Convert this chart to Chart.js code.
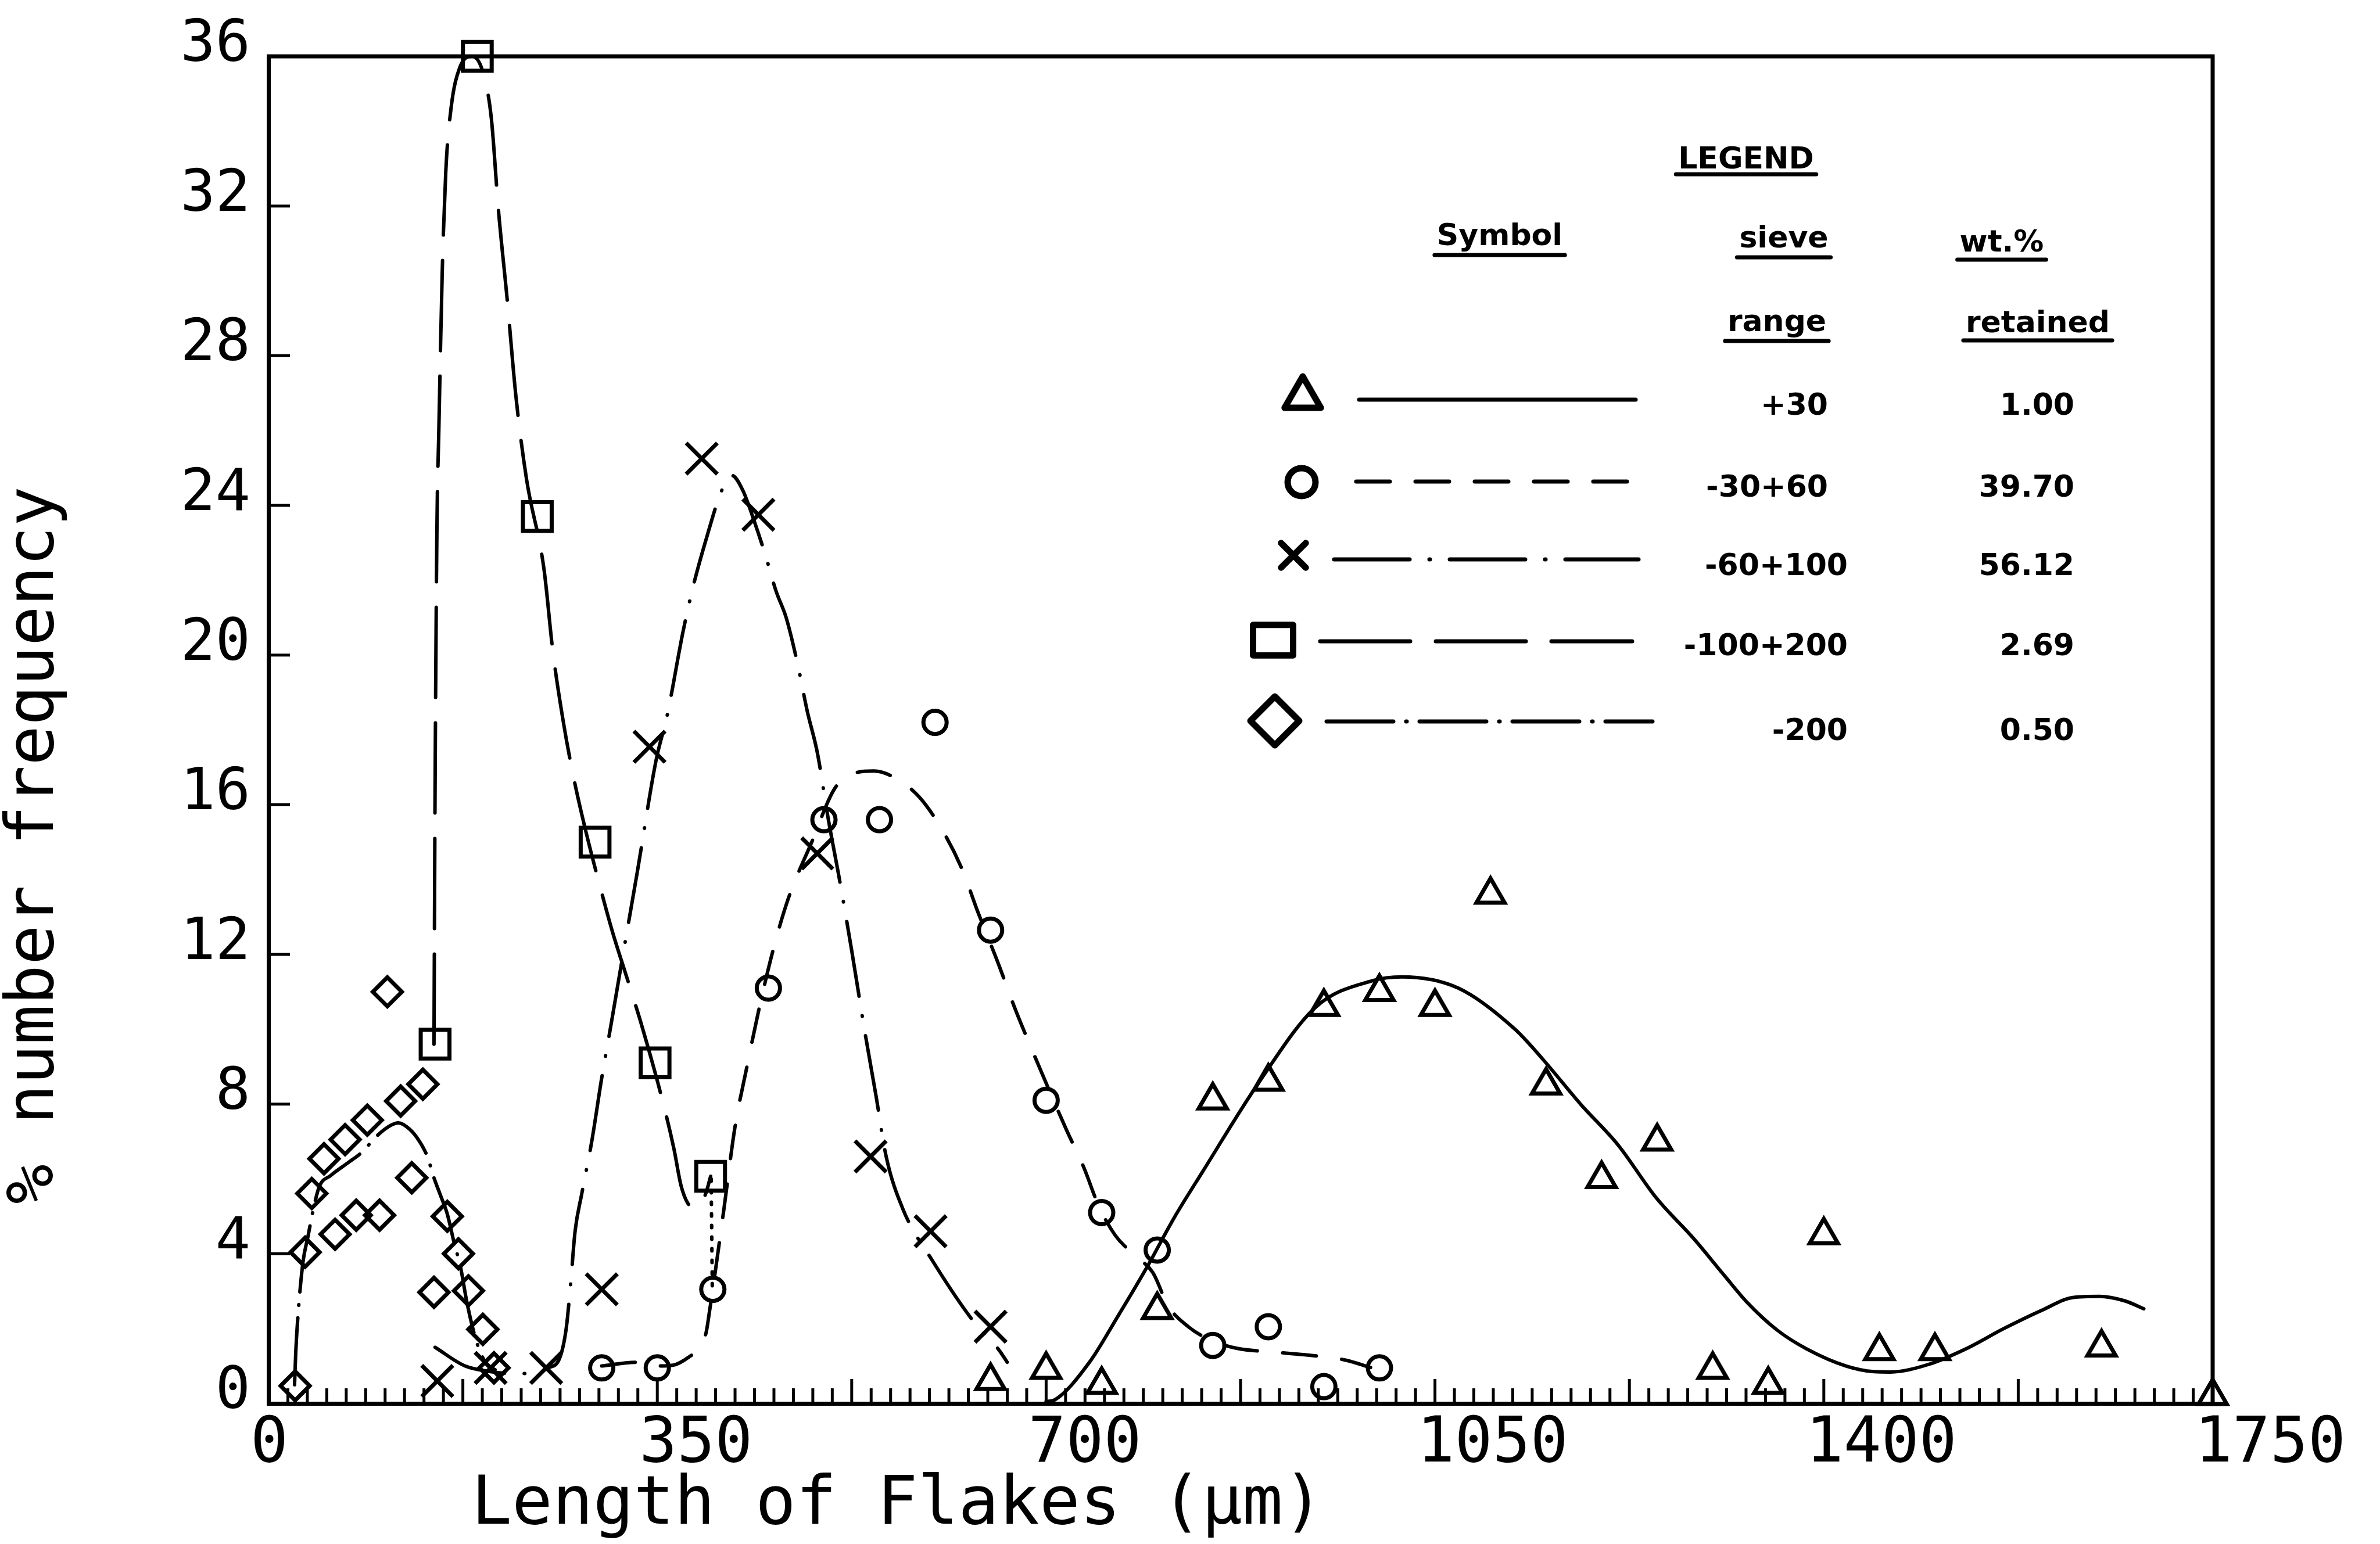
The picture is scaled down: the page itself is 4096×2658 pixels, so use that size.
<!DOCTYPE html>
<html>
<head>
<meta charset="utf-8">
<style>
html,body{margin:0;padding:0;background:#fff;}
canvas{display:block;}
</style>
<script src="https://cdn.jsdelivr.net/npm/chart.js@4.4.1/dist/chart.umd.min.js"></script>
</head>
<body>
<canvas id="c" width="4096" height="2658" style="width:4096px;height:2658px"></canvas>
<script>
// ---------------- DATA ----------------
// +30 sieve range (triangles, solid line)
const triX = [650,700,750,800,850,900,950,1000,1050,1100,1150,1200,1250,1300,1350,1400,1450,1500,1650,1750];
const triY = [0.6,0.9,0.5,2.5,8.1,8.6,10.6,11.0,10.6,13.6,8.5,6.0,7.0,0.9,0.5,4.5,1.4,1.4,1.5,0.2];
const triCurveX = [700,708,739,764,790,815,841,892,943,994,1020,1071,1122,1147,1181,1215,1249,1283,1311,1331,1358,1385,1420,1445,1460,1494,1528,1562,1597,1624,1648,1671,1688];
const triCurveY = [0.05,0.1,1.1,2.3,3.6,4.95,6.2,8.6,10.6,11.3,11.4,11.1,10.0,9.2,8.0,6.9,5.5,4.4,3.4,2.7,1.96,1.45,1.0,0.85,0.84,1.04,1.46,2.0,2.5,2.83,2.86,2.74,2.53];

// -30+60 (circles, dashed)
const circX = [300,350,400,450,500,550,600,650,700,750,800,850,900,950,1000];
const circY = [0.95,0.95,3.05,11.1,15.6,15.6,18.2,12.65,8.1,5.1,4.1,1.55,2.05,0.45,0.95];
const circCurveX = [300,330,350,364,378,388,394,397,400,410,420,430,442,455,468,489,509,524,545,565,586,606,624,639,657,672,688,718,734,747,762,780,796,810,828,846,872,902,933,969,992];
const circCurveY = [1.0,1.1,1.0,1.02,1.23,1.5,1.9,2.46,3.06,5.2,7.4,8.9,10.6,12.2,13.5,15.0,16.4,16.8,16.9,16.7,16.2,15.35,14.3,13.1,11.75,10.55,9.4,7.33,6.3,5.3,4.5,3.95,3.5,2.6,2.05,1.72,1.47,1.38,1.3,1.16,0.96];
const circStemX = [398.5,399.5];
const circStemY = [6.0,3.1];

// -60+100 (crosses, dash-dot)
const crossX = [152,200,250,300,343,390,441,494,542,596,650];
const crossY = [0.6,0.95,0.95,3.05,17.55,25.25,23.75,14.7,6.6,4.6,2.05];
const crossCurveX = [150,177,200,220,238,252,262,268,272,276,282,291,300,308,318,332,349,359,373,382,395,408,417,427,437,447,457,466,476,485,494,504,514,525,537,547,556,571,598,637,657,665];
const crossCurveY = [1.5,1.0,0.85,0.8,0.8,0.95,1.2,2.0,3.2,4.6,5.6,7.0,8.7,10.06,11.8,14.2,17.2,18.4,20.6,21.8,23.2,24.4,24.8,24.4,23.6,22.7,21.7,21.0,19.8,18.5,17.4,15.6,14.0,12.1,9.9,8.2,6.6,5.2,3.8,2.1,1.45,1.1];

// -100+200 (squares, long dash)
const sqX = [150,188,242,294,348,398];
const sqY = [9.6,36.0,23.7,15.0,9.1,6.07];
const sqCurveX = [149,150,151.7,153.3,156.4,159.6,164.3,172.2,183.3,192.8,200.6,207,214.9,222.8,232.3,248,256,265.5,274.9,286,298.6,309.7,322.4,335,355.5,365,371.3,377.7,385.5,393.4,398];
const sqCurveY = [9.6,16.5,23.5,25.9,30.2,32.9,34.6,35.7,36.0,35.6,34.35,31.9,29.5,26.9,24.7,22.3,20.1,18.2,16.7,15.25,13.8,12.6,11.4,10.2,8.0,6.8,5.83,5.34,5.22,5.59,6.07];

// -200 (diamonds, dash-dot)
const diaX = [24,33,39,50,60,69,79,89,100,107,119,129,139,149,161,171,180,193,203];
const diaY = [0.47,4.04,5.61,6.54,4.52,7.05,5.03,7.57,5.03,11.0,8.08,6.03,8.53,2.97,5.0,4.0,3.01,1.98,0.95];
const diaCurveX = [23.5,24.5,26,31,35.5,40,45.7,56,72,84,98,110,117,127,136,143,149,155,161,167,173,178,183,189,197,204];
const diaCurveY = [0.5,1.3,2.1,3.76,4.45,5.13,5.79,6.09,6.44,6.71,7.16,7.43,7.5,7.33,7.0,6.6,6.03,5.55,5.06,4.31,3.63,2.8,2.12,1.5,1.02,0.9];

// axis ticks
const xTickValues = [0,350,700,1050,1400,1750];
const yTickValues = [0,4,8,12,16,20,24,28,32,36];

// legend table
const legendTitle = 'LEGEND';
const legendHeaders = ['Symbol','sieve','wt.%','range','retained'];
const legendRanges = ['+30','-30+60','-60+100','-100+200','-200'];
const legendWt = ['1.00','39.70','56.12','2.69','0.50'];

// ---------------- STYLES ----------------
const MONO = '"DejaVu Sans Mono", "Liberation Mono", monospace';
const BLACK = '#000';
const seriesStyle = [
  {pointStyle:'triangle', r:28, dash:[],             legR:36},
  {pointStyle:'circle',   r:20, dash:[58,44],        legR:24},
  {pointStyle:'crossRot', r:38, dash:[130,34,1,34],  legR:30},
  {pointStyle:'rect',     r:35, dash:[155,44],       legR:37, legW:69},
  {pointStyle:'rectRot',  r:25, dash:[115,22,1,22],  legR:42}
];

function pts(xs, ys){ return xs.map((x,i)=>({x:x, y:ys[i]})); }

function markerSet(xs, ys, st){
  return {data: pts(xs, ys), showLine:false, pointStyle:st.pointStyle, pointRadius:st.r,
    pointBorderWidth:7, pointBorderColor:BLACK, pointBackgroundColor:'rgba(0,0,0,0)',
    pointHoverRadius:st.r, clip:false};
}
function curveSet(xs, ys, dash, width){
  return {data: pts(xs, ys), showLine:true, pointRadius:0, pointHoverRadius:0,
    borderColor:BLACK, borderWidth:width||6, borderDash:dash, borderCapStyle:'round',
    cubicInterpolationMode:'monotone', fill:false, clip:false};
}

const datasets = [
  curveSet(triCurveX, triCurveY, seriesStyle[0].dash),
  markerSet(triX, triY, seriesStyle[0]),
  curveSet(circCurveX, circCurveY, seriesStyle[1].dash),
  curveSet(circStemX, circStemY, [4,16]),
  markerSet(circX, circY, seriesStyle[1]),
  curveSet(crossCurveX, crossCurveY, seriesStyle[2].dash),
  markerSet(crossX, crossY, seriesStyle[2]),
  curveSet(sqCurveX, sqCurveY, seriesStyle[3].dash),
  markerSet(sqX, sqY, seriesStyle[3]),
  curveSet(diaCurveX, diaCurveY, seriesStyle[4].dash),
  markerSet(diaX, diaY, seriesStyle[4])
];

// ---------------- PLUGINS ----------------
const xMinorStep = 17.5, xMajorEvery = 10;
const frameTicks = {
  id:'frameTicks',
  afterDatasetsDraw(chart){
    const {ctx, chartArea:a, scales:{x, y}} = chart;
    ctx.save();
    ctx.strokeStyle = BLACK;
    ctx.lineCap = 'butt';
    ctx.lineWidth = 7;
    ctx.beginPath();
    ctx.moveTo(a.left - 3, a.top);
    ctx.lineTo(a.right, a.top);
    ctx.lineTo(a.right, a.bottom + 3);
    ctx.stroke();
    ctx.lineWidth = 5;
    for (let i = 1; i * xMinorStep < x.max - 1e-6; i++){
      const px = x.getPixelForValue(i * xMinorStep);
      const len = (i % xMajorEvery === 0) ? 42 : 26;
      ctx.beginPath(); ctx.moveTo(px, a.bottom); ctx.lineTo(px, a.bottom - len); ctx.stroke();
    }
    yTickValues.forEach(v => {
      if (v <= y.min || v >= y.max) return;
      const py = y.getPixelForValue(v);
      ctx.beginPath(); ctx.moveTo(a.left, py); ctx.lineTo(a.left + 37, py); ctx.stroke();
    });
    ctx.restore();
  }
};

const LEG = {
  font: 'bold 52px "DejaVu Sans", "Liberation Sans", sans-serif',
  title: [3005, 290, 10],
  heads: [[2581,422,17],[3070,426,17],[3445,433,14],[3058,570,17],[3507,572,14]],
  symX: [2242,2240,2226,2191,2194],
  symY: [684,830,956,1102,1241],
  lineX0: [2339,2334,2296,2272,2283],
  lineX1: [2815,2815,2820,2809,2844],
  lineY: [688,829,963,1104,1242],
  textY: [714,855,990,1128,1274],
  rangeRight: [3146,3146,3180,3180,3180],
  wtRight: 3570
};

const tableLegend = {
  id:'tableLegend',
  afterDraw(chart){
    const ctx = chart.ctx;
    const H = Chart.helpers;
    ctx.save();
    ctx.fillStyle = BLACK; ctx.strokeStyle = BLACK;
    ctx.font = LEG.font;
    ctx.textBaseline = 'alphabetic';
    const under = (t, cx, by, off) => {
      ctx.textAlign = 'center';
      ctx.fillText(t, cx, by);
      const w = ctx.measureText(t).width;
      ctx.lineWidth = 7; ctx.lineCap = 'round'; ctx.setLineDash([]);
      ctx.beginPath(); ctx.moveTo(cx - w/2 - 4, by + off); ctx.lineTo(cx + w/2 + 4, by + off); ctx.stroke();
    };
    under(legendTitle, LEG.title[0], LEG.title[1], LEG.title[2]);
    legendHeaders.forEach((t, i) => under(t, LEG.heads[i][0], LEG.heads[i][1], LEG.heads[i][2]));
    legendRanges.forEach((rng, i) => {
      const st = seriesStyle[i];
      ctx.save();
      ctx.lineWidth = 11; ctx.setLineDash([]); ctx.lineJoin = 'round';
      ctx.fillStyle = 'rgba(0,0,0,0)'; ctx.strokeStyle = BLACK;
      const opts = {pointStyle: st.pointStyle, radius: st.legR, rotation: 0, borderWidth: 11};
      const draw = H.drawPointLegend || H.drawPoint;
      draw(ctx, opts, LEG.symX[i], LEG.symY[i], st.legW || 0);
      ctx.restore();
      ctx.save();
      ctx.lineWidth = 7; ctx.lineCap = 'round'; ctx.setLineDash(st.dash);
      ctx.beginPath(); ctx.moveTo(LEG.lineX0[i], LEG.lineY[i]); ctx.lineTo(LEG.lineX1[i], LEG.lineY[i]); ctx.stroke();
      ctx.restore();
      ctx.fillStyle = BLACK;
      ctx.textAlign = 'right';
      ctx.fillText(rng, LEG.rangeRight[i], LEG.textY[i]);
      ctx.fillText(legendWt[i], LEG.wtRight, LEG.textY[i]);
    });
    ctx.restore();
  }
};

// ---------------- CHART ----------------
new Chart(document.getElementById('c').getContext('2d'), {
  type: 'scatter',
  data: {datasets: datasets},
  options: {
    responsive: false,
    animation: false,
    devicePixelRatio: 1,
    events: [],
    layout: {padding: {top: 97, right: 288, bottom: 0, left: 0}},
    plugins: {legend: {display: false}, tooltip: {enabled: false}},
    scales: {
      x: {
        type: 'linear', position: 'bottom', min: 0, max: 1750,
        afterBuildTicks: s => { s.ticks = xTickValues.map(v => ({value: v})); },
        afterFit: s => { s.height = 242; s.paddingLeft = 0; s.paddingRight = 0; },
        ticks: {align: 'start', labelOffset: -31, padding: 18, color: BLACK, autoSkip: false, maxRotation: 0, minRotation: 0,
                callback: v => String(v),
                font: {family: MONO, size: 108, lineHeight: 1}},
        grid: {display: false, drawTicks: false},
        border: {display: true, color: BLACK, width: 7},
        title: {display: true, text: '     Length of Flakes (µm)', align: 'start', color: BLACK,
                font: {family: MONO, size: 116, lineHeight: 0.9}, padding: {top: 0, bottom: 13}}
      },
      y: {
        type: 'linear', position: 'left', min: 0, max: 36,
        afterBuildTicks: s => { s.ticks = yTickValues.map(v => ({value: v})); },
        afterFit: s => { s.width = 462; s.paddingTop = 0; s.paddingBottom = 0; },
        ticks: {padding: 31, labelOffset: -18, color: BLACK, callback: v => String(v),
                font: {family: MONO, size: 100, lineHeight: 1}},
        grid: {display: false, drawTicks: false},
        border: {display: true, color: BLACK, width: 7},
        title: {display: true, text: '     % number frequency', align: 'start', color: BLACK,
                font: {family: MONO, size: 114, lineHeight: 1}, padding: {top: 4, bottom: 0}}
      }
    }
  },
  plugins: [frameTicks, tableLegend]
});
</script>
</body>
</html>
